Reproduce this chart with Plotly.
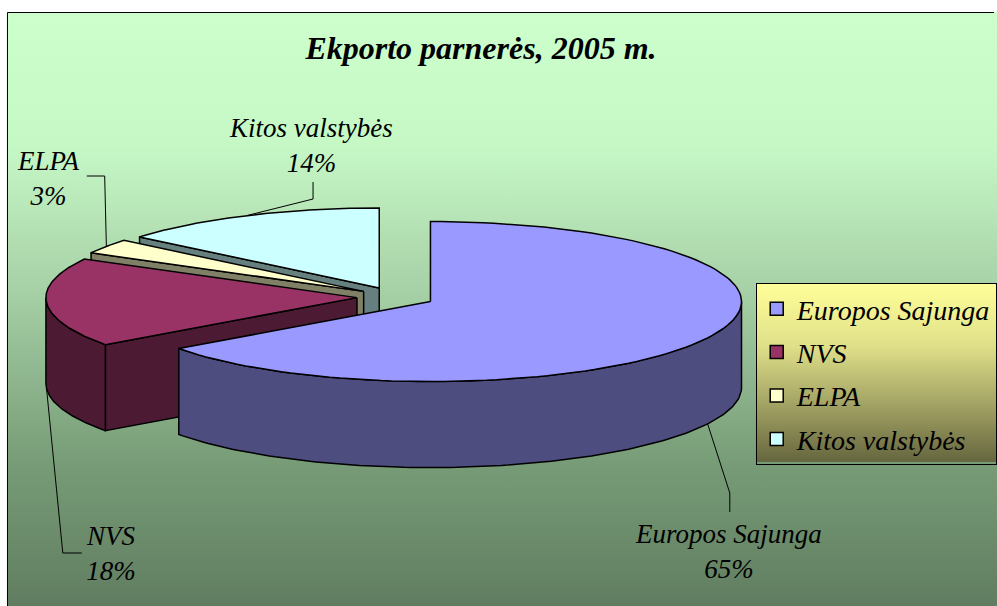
import math
import base64
import plotly.graph_objects as go

# ---------------- data ----------------
categories = ["Europos Sajunga", "NVS", "ELPA", "Kitos valstybės"]
shares = [65, 18, 3, 14]
title_text = "Ekporto parnerės, 2005 m."

# ---------------- styles ----------------
top_colors = ["#9999ff", "#993366", "#ffffcc", "#ccffff"]
side_colors = ["#4d4d80", "#4d1a33", "#808066", "#668080"]
label_pos = [(731, 551), (111, 553), (49, 178), (312, 145)]
leader_tail = [[(732, 493), (732, 512)],
               [(63, 553), (82, 553)],
               [(105, 176), (87, 176)],
               [(314, 199), (314, 182)]]

W, H = 997, 606
CX, CY = 397, 297      # pie centre in pixels
RX, RY = 312, 80       # ellipse radii
DEPTH = 86             # thickness of the 3D pie
EXPLODE = 0.125        # explosion as fraction of radius
FONT = "Liberation Serif"


def pt(cx, cy, ang, dz=0.0):
    r = math.radians(ang)
    return cx + RX * math.sin(r), cy - RY * math.cos(r) + dz


def arc(cx, cy, a0, a1, dz=0.0, n=120):
    xs, ys = [], []
    for i in range(n + 1):
        a = a0 + (a1 - a0) * i / n
        x, y = pt(cx, cy, a, dz)
        xs.append(x)
        ys.append(y)
    return xs, ys


def poly(xs, ys, color):
    return go.Scatter(x=xs + [xs[0]], y=ys + [ys[0]], mode="lines", fill="toself",
                      fillcolor=color, line=dict(color="black", width=1.5),
                      hoverinfo="skip", showlegend=False)


total = float(sum(shares))
slices = []
start = 0.0
for i, v in enumerate(shares):
    span = v / total * 360.0
    a0, a1 = start, start + span
    mid = (a0 + a1) / 2
    m = math.radians(mid)
    cx = CX + EXPLODE * RX * math.sin(m)
    cy = CY - EXPLODE * RY * math.cos(m)
    slices.append(dict(i=i, a0=a0, a1=a1, mid=mid, cx=cx, cy=cy))
    start = a1

traces = []
# draw back slices first
for s in sorted(slices, key=lambda d: -math.cos(math.radians(d["mid"]))):
    i, a0, a1, cx, cy = s["i"], s["a0"], s["a1"], s["cx"], s["cy"]
    # radial walls (only those facing the viewer)
    if math.sin(math.radians(a0)) < -1e-9:
        ex, ey = pt(cx, cy, a0)
        traces.append(poly([cx, ex, ex, cx], [cy, ey, ey + DEPTH, cy + DEPTH], side_colors[i]))
    if math.sin(math.radians(a1)) > 1e-9:
        ex, ey = pt(cx, cy, a1)
        traces.append(poly([cx, ex, ex, cx], [cy, ey, ey + DEPTH, cy + DEPTH], side_colors[i]))
    # curved outer side
    lo, hi = max(a0, 90.0), min(a1, 270.0)
    if hi > lo:
        tx, ty = arc(cx, cy, lo, hi, 0)
        bx, by = arc(cx, cy, hi, lo, DEPTH)
        traces.append(poly(tx + bx, ty + by, side_colors[i]))
    # top face
    ax, ay = arc(cx, cy, a0, a1, 0)
    traces.append(poly([cx] + ax, [cy] + ay, top_colors[i]))

# leader lines
annotations = []
for s in slices:
    i = s["i"]
    x0, y0 = pt(s["cx"], s["cy"], s["mid"])
    if math.cos(math.radians(s["mid"])) < 0:
        y0 += DEPTH
    pts = [(x0, y0)] + leader_tail[i]
    traces.append(go.Scatter(x=[p[0] for p in pts], y=[p[1] for p in pts], mode="lines",
                             line=dict(color="black", width=1), hoverinfo="skip",
                             showlegend=False))
    pct = round(shares[i] / total * 100)
    annotations.append(dict(x=label_pos[i][0], y=label_pos[i][1], xref="x", yref="y",
                            text=f"{categories[i]}<br>{pct}%", showarrow=False,
                            align="center", xanchor="center", yanchor="middle",
                            font=dict(family=FONT, size=27, color="black", style="italic")))

# legend entries
for i, name in enumerate(categories):
    traces.append(go.Scatter(x=[None], y=[None], mode="markers", name=name,
                             legendgroup=name,
                             marker=dict(symbol="square", size=13, color=top_colors[i],
                                         line=dict(color="black", width=1.5))))


def grad_uri(stops):
    st = "".join(f'<stop offset="{o}" stop-color="{c}"/>' for o, c in stops)
    svg = ('<svg xmlns="http://www.w3.org/2000/svg" width="100" height="100" '
           'viewBox="0 0 100 100" preserveAspectRatio="none"><defs>'
           f'<linearGradient id="g" x1="0" y1="0" x2="0" y2="1">{st}</linearGradient>'
           '</defs><rect width="100" height="100" fill="url(#g)"/></svg>')
    return "data:image/svg+xml;base64," + base64.b64encode(svg.encode()).decode()


bg_uri = grad_uri([(0, "#ccffcc"), (0.22, "#c6f8c6"), (0.45, "#a8d2a8"),
                   (0.75, "#769b76"), (1, "#5f7a5f")])
lg_uri = grad_uri([(0, "#ffff99"), (0.35, "#e0e08a"), (1, "#66663f")])

LEG_TOP, LEG_H = 283, 179

fig = go.Figure(traces)
fig.update_layout(
    width=W, height=H,
    margin=dict(l=0, r=0, t=0, b=0),
    paper_bgcolor="white", plot_bgcolor="rgba(0,0,0,0)",
    xaxis=dict(range=[0, W], visible=False, fixedrange=True),
    yaxis=dict(range=[H, 0], visible=False, fixedrange=True),
    showlegend=True,
    legend=dict(x=758 / W, y=1 - LEG_TOP / H, xanchor="left", yanchor="top",
                bgcolor="rgba(0,0,0,0)", bordercolor="black", borderwidth=1,
                tracegroupgap=4,
                font=dict(family=FONT, size=28, color="black", style="italic")),
    title=dict(text=title_text, x=481 / W, y=1 - 48 / H, xanchor="center", yanchor="middle",
               font=dict(family=FONT, size=32, color="black", style="italic", weight="bold")),
    annotations=annotations,
    images=[
        dict(source=bg_uri, xref="paper", yref="paper", x=7 / W, y=1 - 12 / H,
             sizex=1, sizey=1, xanchor="left", yanchor="top", sizing="stretch",
             layer="below"),
        dict(source=lg_uri, xref="paper", yref="paper", x=758 / W, y=1 - LEG_TOP / H,
             sizex=1, sizey=LEG_H / H, xanchor="left", yanchor="top", sizing="stretch",
             layer="below"),
    ],
    shapes=[dict(type="rect", xref="x", yref="y", x0=7.5, y0=12.5, x1=W + 10, y1=H + 10,
                 line=dict(color="black", width=1), fillcolor="rgba(0,0,0,0)")],
    hovermode=False,
)
fig.write_html("out.html", config={"displayModeBar": False},
               post_script="document.body.style.margin='0';document.body.style.overflow='hidden';")
